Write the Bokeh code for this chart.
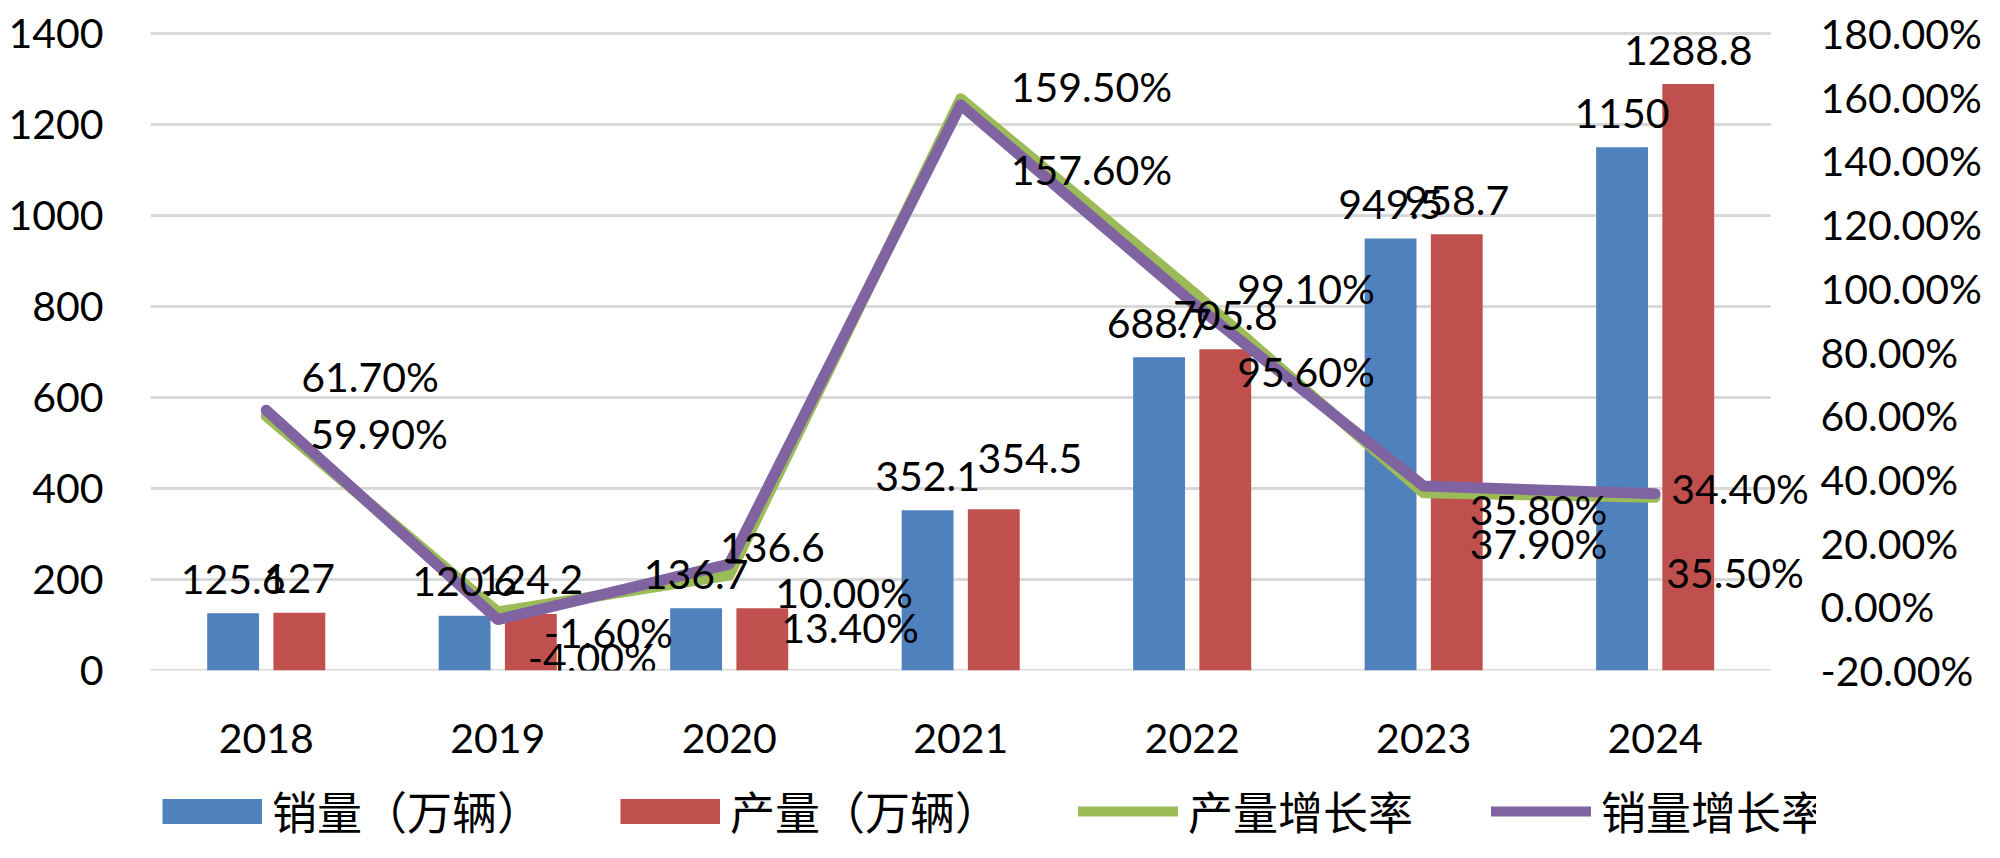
from bokeh.plotting import figure
from bokeh.layouts import column
from bokeh.models import (ColumnDataSource, Range1d, LinearAxis, FixedTicker,
                          PrintfTickFormatter, Legend, LegendItem)
from bokeh.transform import dodge
from bokeh.core.properties import value
from bokeh.embed import file_html
from bokeh.resources import INLINE

# ---------------- data ----------------
years = ["2018", "2019", "2020", "2021", "2022", "2023", "2024"]
sales = [125.6, 120.6, 136.7, 352.1, 688.7, 949.5, 1150]          # 销量（万辆）
production = [127, 124.2, 136.6, 354.5, 705.8, 958.7, 1288.8]     # 产量（万辆）
prod_growth = [59.9, -1.6, 10.0, 159.5, 99.1, 35.8, 34.4]        # 产量增长率 (%)
sales_growth = [61.7, -4.0, 13.4, 157.6, 95.6, 37.9, 35.5]       # 销量增长率 (%)
left_ticks = [0, 200, 400, 600, 800, 1000, 1200, 1400]
right_ticks = [-20, 0, 20, 40, 60, 80, 100, 120, 140, 160, 180]
legend_labels = ["销量（万辆）", "产量（万辆）", "产量增长率", "销量增长率"]

# ---------------- label placement (screen px) ----------------
sales_lbl_dx = [0, 0, 0, 0, 0, 0, 0]
sales_lbl_dy = [-34, -34, -34, -34, -34, -34, -34]
prod_lbl_dx = [0, 0, 10, 36, 0, 0, 0]
prod_lbl_dy = [-34, -34, -61, -51, -34, -34, -34]
pg_lbl_dx = [44, 46, 46, 50, 45, 46, 16]
pg_lbl_dy = [17, 21, 18, -12, -3, 17, -9]
sg_lbl_dx = [35, 30, 52, 50, 45, 46, 11]
sg_lbl_dy = [-34, 38, 63, 65, 69, 57, 79]

BLUE, RED, GREEN, PURPLE = "#4F81BD", "#C0504D", "#9BBB59", "#8064A2"
NUM_FONT = "Lato"
CJK_FONT = "Noto Sans CJK SC"
FS = "41px"
W = 1984
BORDER_L, BORDER_R = 150, 154

# layout helpers (extra room inside the frame so that labels are not clipped)
n = len(years)
xi = list(range(n))
TOP_PAD = 21 / 637          # fraction of the value span added above the top tick
RIGHT_EXT = 0.197           # category units added at the right for labels
y_end = left_ticks[-1] + (left_ticks[-1] - left_ticks[0]) * TOP_PAD
r_end = right_ticks[-1] + (right_ticks[-1] - right_ticks[0]) * TOP_PAD

p = figure(x_range=Range1d(-0.5, n - 0.5 + RIGHT_EXT),
           y_range=Range1d(left_ticks[0], y_end),
           width=W, height=774,
           output_backend="svg", toolbar_location=None,
           min_border_left=BORDER_L, min_border_right=BORDER_R,
           min_border_top=12, min_border_bottom=104)
p.extra_y_ranges = {"pct": Range1d(right_ticks[0], r_end)}
p.outline_line_color = None
p.background_fill_color = "white"
p.border_fill_color = "white"
p.xgrid.visible = False
p.ygrid.visible = False

# gridlines limited to the category span
p.segment(x0=[-0.5] * len(left_ticks), x1=[n - 0.5] * len(left_ticks),
          y0=left_ticks, y1=left_ticks, line_color="#D9D9D9", line_width=3,
          level="underlay")

# axes
def style_axis(ax):
    ax.axis_line_color = None
    ax.major_tick_line_color = None
    ax.minor_tick_line_color = None
    ax.major_tick_out = 0
    ax.major_tick_in = 0
    ax.minor_tick_out = 0
    ax.major_label_text_font = NUM_FONT
    ax.major_label_text_font_size = FS
    ax.major_label_text_color = "black"

p.yaxis.ticker = FixedTicker(ticks=left_ticks)
style_axis(p.yaxis[0])
p.yaxis.major_label_standoff = 47

p.xaxis.ticker = FixedTicker(ticks=xi)
p.xaxis.major_label_overrides = {i: y for i, y in zip(xi, years)}
style_axis(p.xaxis[0])
p.xaxis.major_label_standoff = 53

ax_r = LinearAxis(y_range_name="pct", ticker=FixedTicker(ticks=right_ticks),
                  formatter=PrintfTickFormatter(format="%.2f%%"))
style_axis(ax_r)
ax_r.major_label_standoff = 4
p.add_layout(ax_r, "right")

src = ColumnDataSource(dict(
    xi=xi, sales=sales, production=production,
    pg=prod_growth, sg=sales_growth,
    sales_t=[f"{v:g}" for v in sales],
    prod_t=[f"{v:g}" for v in production],
    pg_t=[f"{v:.2f}%" for v in prod_growth],
    sg_t=[f"{v:.2f}%" for v in sales_growth],
    s_dx=sales_lbl_dx, s_dy=sales_lbl_dy,
    p_dx=prod_lbl_dx, p_dy=prod_lbl_dy,
    pg_dx=pg_lbl_dx, pg_dy=pg_lbl_dy,
    sg_dx=sg_lbl_dx, sg_dy=sg_lbl_dy,
))

# bars
BW = 0.224
OFF = 0.143
p.vbar(x=dodge("xi", -OFF), top="sales", width=BW, bottom=0,
       color=BLUE, line_color=None, source=src)
p.vbar(x=dodge("xi", OFF), top="production", width=BW, bottom=0,
       color=RED, line_color=None, source=src)

# lines
p.line(x="xi", y="pg", y_range_name="pct", line_color=GREEN, line_width=11,
       line_cap="round", line_join="round", source=src)
p.line(x="xi", y="sg", y_range_name="pct", line_color=PURPLE, line_width=11,
       line_cap="round", line_join="round", source=src)

# data labels
common = dict(text_font=value(NUM_FONT), text_font_size=value(FS), text_color="black",
              text_baseline="alphabetic", source=src)
p.text(x=dodge("xi", -OFF), y="sales", text="sales_t",
       x_offset="s_dx", y_offset="s_dy", text_align="center", **common)
p.text(x=dodge("xi", OFF), y="production", text="prod_t",
       x_offset="p_dx", y_offset="p_dy", text_align="center", **common)
p.text(x="xi", y="pg", y_range_name="pct", text="pg_t",
       x_offset="pg_dx", y_offset="pg_dy", text_align="left", **common)
p.text(x="xi", y="sg", y_range_name="pct", text="sg_t",
       x_offset="sg_dx", y_offset="sg_dy", text_align="left", **common)

# ---------------- legend strip (own figure below the chart) ----------------
q = figure(width=W, height=68, output_backend="svg", toolbar_location=None,
           x_axis_type=None, y_axis_type=None,
           x_range=Range1d(0, 1), y_range=Range1d(0, 1),
           min_border_left=BORDER_L, min_border_right=BORDER_R,
           min_border_top=0, min_border_bottom=0)
q.outline_line_color = None
q.xgrid.visible = False
q.ygrid.visible = False
q.background_fill_color = "white"
q.border_fill_color = "white"
nan = [float("nan")]
sw = [q.line(x=nan, y=nan, line_color=BLUE, line_width=25, line_cap="butt"),
      q.line(x=nan, y=nan, line_color=RED, line_width=25, line_cap="butt"),
      q.line(x=nan, y=nan, line_color=GREEN, line_width=10, line_cap="round"),
      q.line(x=nan, y=nan, line_color=PURPLE, line_width=10, line_cap="round")]
lg = Legend(items=[LegendItem(label=lab, renderers=[r]) for lab, r in zip(legend_labels, sw)],
            location=(12, -1), orientation="horizontal")
lg.padding = 0
lg.margin = 0
lg.border_line_color = None
lg.background_fill_alpha = 0
lg.label_text_font = CJK_FONT
lg.label_text_font_size = "45px"
lg.label_text_color = "black"
lg.glyph_width = 100
lg.glyph_height = 58
lg.label_height = 58
lg.label_standoff = 10
lg.spacing = 78
q.add_layout(lg)

open("out.html", "w").write(file_html(column(p, q, spacing=0), INLINE))
